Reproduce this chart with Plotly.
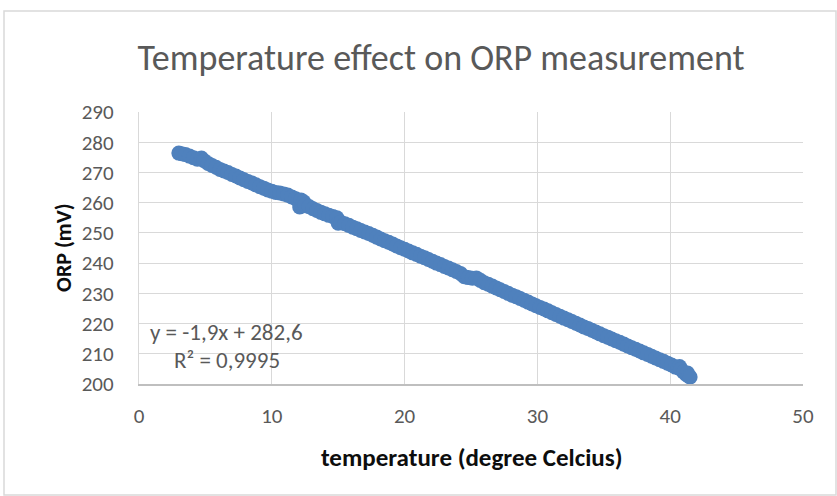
import plotly.graph_objects as go

temperature = [3.0, 3.2, 3.5, 3.8, 4.1, 4.4, 4.7, 4.9, 5.2, 5.5, 5.8, 6.1, 6.4, 6.7, 7.0, 7.3, 7.6, 7.9,
               8.2, 8.5, 8.8, 9.1, 9.4, 9.7, 10.0, 10.3, 10.6, 10.9, 11.2, 11.5, 11.8, 12.0, 12.1, 12.2,
               12.3, 12.4, 12.5, 12.8, 13.1, 13.4, 13.7, 14.0, 14.3, 14.6, 14.9, 15.0, 15.2, 15.5, 15.8,
               16.1, 16.4, 16.7, 17.0, 17.3, 17.6, 17.9, 18.2, 18.5, 18.8, 19.1, 19.4, 19.7, 20.0, 20.3,
               20.6, 20.9, 21.2, 21.5, 21.8, 22.1, 22.4, 22.7, 23.0, 23.3, 23.6, 23.9, 24.2, 24.5, 24.8,
               25.1, 25.4, 25.7, 26.0, 26.3, 26.6, 26.9, 27.2, 27.5, 27.8, 28.1, 28.4, 28.7, 29.0, 29.3,
               29.6, 29.9, 30.2, 30.5, 30.8, 31.1, 31.4, 31.7, 32.0, 32.3, 32.6, 32.9, 33.2, 33.5, 33.8,
               34.1, 34.4, 34.7, 35.0, 35.3, 35.6, 35.9, 36.2, 36.5, 36.8, 37.1, 37.4, 37.7, 38.0, 38.3,
               38.6, 38.9, 39.2, 39.5, 39.8, 40.1, 40.4, 40.6, 40.7, 40.8, 41.0, 41.2, 41.3, 41.4, 41.5]
orp = [276.4, 276.2, 275.9, 275.4, 274.9, 274.4, 274.8, 273.9, 273.0, 272.3, 271.7, 271.0, 270.5, 270.0,
       269.3, 268.8, 268.2, 267.6, 267.0, 266.5, 265.9, 265.3, 264.8, 264.2, 263.8, 263.4, 263.2, 262.9,
       262.5, 261.9, 261.3, 260.8, 258.6, 260.9, 258.9, 260.3, 259.2, 258.7, 258.0, 257.4, 256.8, 256.3,
       255.8, 255.4, 255.0, 253.2, 253.5, 253.0, 252.5, 251.9, 251.4, 250.8, 250.3, 249.8, 249.2, 248.6,
       248.0, 247.4, 246.9, 246.3, 245.7, 245.1, 244.6, 244.0, 243.4, 242.9, 242.3, 241.8, 241.2, 240.6,
       240.0, 239.5, 238.9, 238.4, 237.8, 237.2, 236.6, 235.5, 235.2, 235.0, 235.1, 234.3, 233.5, 233.0,
       232.4, 231.8, 231.2, 230.6, 230.0, 229.4, 228.9, 228.3, 227.7, 227.1, 226.5, 225.9, 225.3, 224.8,
       224.2, 223.6, 223.0, 222.4, 221.8, 221.3, 220.7, 220.1, 219.5, 218.9, 218.4, 217.8, 217.2, 216.6,
       216.0, 215.5, 214.9, 214.3, 213.8, 213.2, 212.6, 212.0, 211.5, 210.9, 210.3, 209.8, 209.2, 208.6,
       208.0, 207.5, 206.9, 206.3, 205.6, 205.4, 205.8, 204.9, 204.0, 203.2, 203.6, 202.6, 202.3]

x_ticks = [0, 10, 20, 30, 40, 50]
y_ticks = [200, 210, 220, 230, 240, 250, 260, 270, 280, 290]
trend_label = "y = -1,9x + 282,6"
r2_label = "R² = 0,9995"

FONT = "Carlito, Lato, 'Open Sans', sans-serif"

fig = go.Figure()
fig.add_trace(go.Scatter(
    x=temperature, y=orp, mode="markers",
    marker=dict(color="#4F81BD", size=15, line=dict(width=0)),
    showlegend=False, hoverinfo="x+y"))

fig.update_layout(
    width=837, height=496,
    margin=dict(l=139, r=34, t=112, b=112),
    paper_bgcolor="white", plot_bgcolor="white",
    font=dict(family=FONT, color="#595959"),
    title=dict(text="Temperature effect on ORP measurement", x=441/837, xanchor="center",
               y=1 - 57/496, yanchor="middle", xref="container", yref="container",
               font=dict(size=36, color="#595959", family=FONT, weight=300)),
    xaxis=dict(range=[0, 50], tickvals=x_ticks, ticktext=[str(v) for v in x_ticks],
               showgrid=True, gridcolor="#D9D9D9", gridwidth=1.3, zeroline=False,
               showline=True, linecolor="#BFBFBF", linewidth=1.5,
               tickfont=dict(size=21, color="#595959", family=FONT), ticks="",
               ticklabelstandoff=12, fixedrange=True),
    yaxis=dict(range=[200, 290], tickvals=y_ticks, ticktext=[str(v) for v in y_ticks],
               showgrid=True, gridcolor="#D9D9D9", gridwidth=1.3, zeroline=False,
               showline=True, linecolor="#D9D9D9", linewidth=1.3,
               tickfont=dict(size=21, color="#595959", family=FONT), ticks="",
               ticklabelstandoff=20, fixedrange=True),
    annotations=[
        dict(text="<b>temperature (degree Celcius)</b>", xref="paper", yref="paper",
             x=0.5, y=(384 - 457) / 272, xanchor="center", yanchor="middle", showarrow=False,
             font=dict(size=25, color="#0D0D0D", family=FONT)),
        dict(text="<b>ORP (mV)</b>", xref="paper", yref="paper", textangle=-90,
             x=(63 - 139) / 664, y=0.5, xanchor="center", yanchor="middle", showarrow=False,
             font=dict(size=22, color="#0D0D0D", family=FONT)),
        dict(text=trend_label, xref="paper", yref="paper",
             x=(226 - 139) / 664, y=(384 - 332) / 272, xanchor="center", yanchor="middle",
             showarrow=False, font=dict(size=23, color="#595959", family=FONT)),
        dict(text=r2_label, xref="paper", yref="paper",
             x=(227 - 139) / 664, y=(384 - 360) / 272, xanchor="center", yanchor="middle",
             showarrow=False, font=dict(size=23, color="#595959", family=FONT)),
    ],
    shapes=[dict(type="rect", xref="paper", yref="paper",
                 x0=(4 - 139) / 664, x1=(836 - 139) / 664,
                 y0=(384 - 495) / 272, y1=(384 - 11) / 272,
                 line=dict(color="#D9D9D9", width=1.5), fillcolor="rgba(0,0,0,0)", layer="below")],
)

fig.write_html("out.html", post_script="document.body.style.margin='0';",
               config={"displayModeBar": False})
